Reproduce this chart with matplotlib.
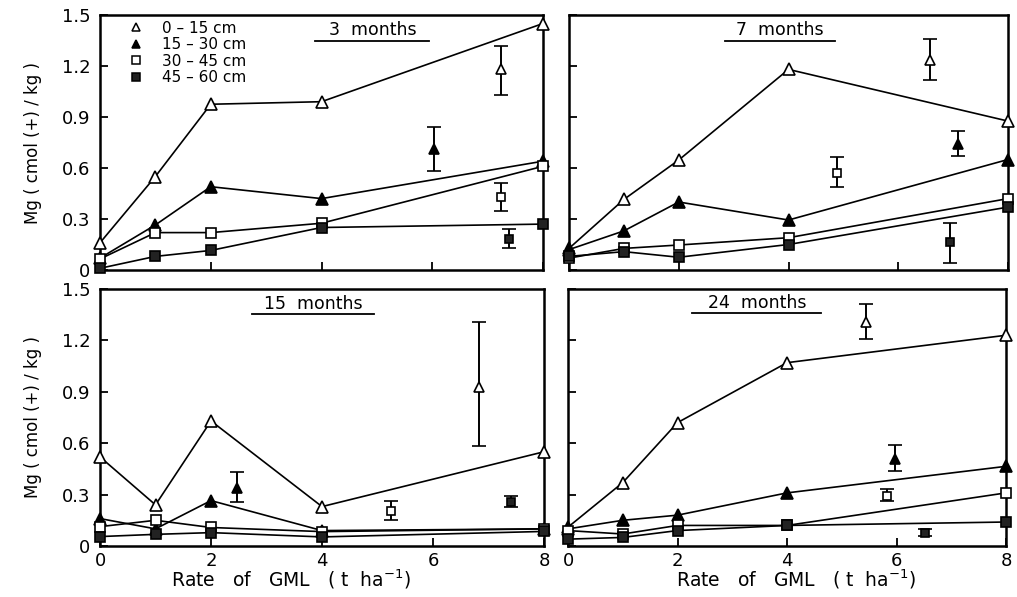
import matplotlib
matplotlib.use('Agg')
import matplotlib.pyplot as plt
from matplotlib.lines import Line2D

# rates of GML (t/ha)
rates = [0, 1, 2, 4, 8]
depths = ['0 – 15 cm', '15 – 30 cm', '30 – 45 cm', '45 – 60 cm']
titles = ['3  months', '7  months', '15  months', '24  months']

# Mg values for each depth, one list per sampling time
m3 = [[0.16, 0.55, 0.975, 0.99, 1.45],
      [0.07, 0.265, 0.49, 0.42, 0.64],
      [0.065, 0.22, 0.22, 0.275, 0.61],
      [0.01, 0.08, 0.115, 0.25, 0.27]]
m7 = [[0.127, 0.415, 0.647, 1.18, 0.876],
      [0.12, 0.23, 0.40, 0.294, 0.65],
      [0.07, 0.127, 0.147, 0.19, 0.42],
      [0.08, 0.108, 0.075, 0.15, 0.37]]
m15 = [[0.52, 0.24, 0.73, 0.23, 0.55],
       [0.16, 0.10, 0.265, 0.09, 0.10],
       [0.113, 0.15, 0.108, 0.084, 0.10],
       [0.055, 0.068, 0.078, 0.053, 0.085]]
m24 = [[0.11, 0.37, 0.72, 1.07, 1.23],
       [0.10, 0.15, 0.18, 0.31, 0.465],
       [0.09, 0.07, 0.12, 0.12, 0.31],
       [0.04, 0.05, 0.09, 0.12, 0.14]]

# LSD bars: x position, centre, lower end, upper end (one per depth)
lsd_x = [[7.25, 6.04, 7.25, 7.38],
         [6.58, 7.09, 4.88, 6.94],
         [6.82, 2.47, 5.25, 7.4],
         [5.45, 5.97, 5.82, 6.52]]
lsd_y = [[1.18, 0.71, 0.43, 0.18],
         [1.235, 0.74, 0.573, 0.163],
         [0.93, 0.34, 0.205, 0.254],
         [1.31, 0.505, 0.29, 0.075]]
lsd_lo = [[1.03, 0.58, 0.35, 0.13],
          [1.12, 0.67, 0.486, 0.04],
          [0.583, 0.254, 0.15, 0.225],
          [1.21, 0.436, 0.26, 0.06]]
lsd_hi = [[1.32, 0.84, 0.51, 0.24],
          [1.357, 0.82, 0.667, 0.275],
          [1.31, 0.43, 0.26, 0.29],
          [1.41, 0.587, 0.33, 0.10]]

yticks = [0, 0.3, 0.6, 0.9, 1.2, 1.5]
ytick_labels = ['0', '0.3', '0.6', '0.9', '1.2', '1.5']
xticks = [0, 2, 4, 6, 8]
xtick_labels = ['0', '2', '4', '6', '8']

all_data = [m3, m7, m15, m24]
markers = ['^', '^', 's', 's']
faces = ['white', 'black', 'white', '#222222']
msizes = [8, 8, 7, 7]

fig = plt.figure(figsize=(10.17, 5.97), dpi=100)
W, H = 1017, 597
# axes boxes in pixels: left, top, right, bottom
boxes = [(100, 15, 543, 270), (569, 15, 1008, 270),
         (100, 289, 544, 546), (568, 289, 1006, 546)]
# title position (data coords) and underline half-width
title_pos = [(4.92, 1.41), (3.85, 1.41), (3.84, 1.415), (3.45, 1.42)]
title_half = [1.03, 1.0, 1.1, 1.18]
xlabel_x = {2: 0.43, 3: 0.52}

axes = []
for i, (l, t, r, b) in enumerate(boxes):
    ax = fig.add_axes([l / W, 1 - b / H, (r - l) / W, (b - t) / H])
    axes.append(ax)
    data = all_data[i]
    for k in range(4):
        ax.plot(rates, data[k], color='black', lw=1.2, marker=markers[k],
                mfc=faces[k], mec='black', ms=msizes[k], mew=1.2,
                clip_on=False, zorder=3)
        ax.errorbar([lsd_x[i][k]], [lsd_y[i][k]],
                    yerr=[[lsd_y[i][k] - lsd_lo[i][k]], [lsd_hi[i][k] - lsd_y[i][k]]],
                    fmt=markers[k], mfc=faces[k], mec='black', ms=msizes[k] - 1,
                    ecolor='black', elinewidth=1.4, capsize=5, capthick=1.4, mew=1.2)
    ax.set_xlim(0, 8)
    ax.set_ylim(0, 1.5)
    ax.set_yticks(yticks)
    ax.set_xticks(xticks)
    ax.tick_params(direction='in', length=6, width=1.3, labelsize=13, pad=7)
    ax.tick_params(axis='x', pad=4)
    for s in ax.spines.values():
        s.set_linewidth(1.8)
    if i % 2 == 0:
        ax.set_yticklabels(ytick_labels)
        ax.set_ylabel('Mg ( cmol (+) / kg )', fontsize=12, labelpad=14)
    else:
        ax.set_yticklabels([])
    if i >= 2:
        ax.set_xticklabels(xtick_labels)
        ax.set_xlabel('Rate   of   GML   ( t  ha$^{-1}$)', fontsize=13.5)
        ax.xaxis.set_label_coords(xlabel_x[i], -0.085)
    else:
        ax.set_xticklabels([])
    tx, ty = title_pos[i]
    ax.text(tx, ty, titles[i], ha='center', va='center', fontsize=12.5)
    ax.plot([tx - title_half[i], tx + title_half[i]], [ty - 0.06, ty - 0.06],
            color='black', lw=1.3)

handles = [Line2D([], [], ls='none', marker=markers[k], mfc=faces[k], mec='black',
                  ms=6, mew=1.1) for k in range(4)]
axes[0].legend(handles, depths, loc='upper left', bbox_to_anchor=(0.04, 1.02),
               frameon=False, fontsize=11, handletextpad=1.2, labelspacing=0.1,
               handlelength=1.0, borderaxespad=0.3)

plt.savefig('out.png', dpi=100)
